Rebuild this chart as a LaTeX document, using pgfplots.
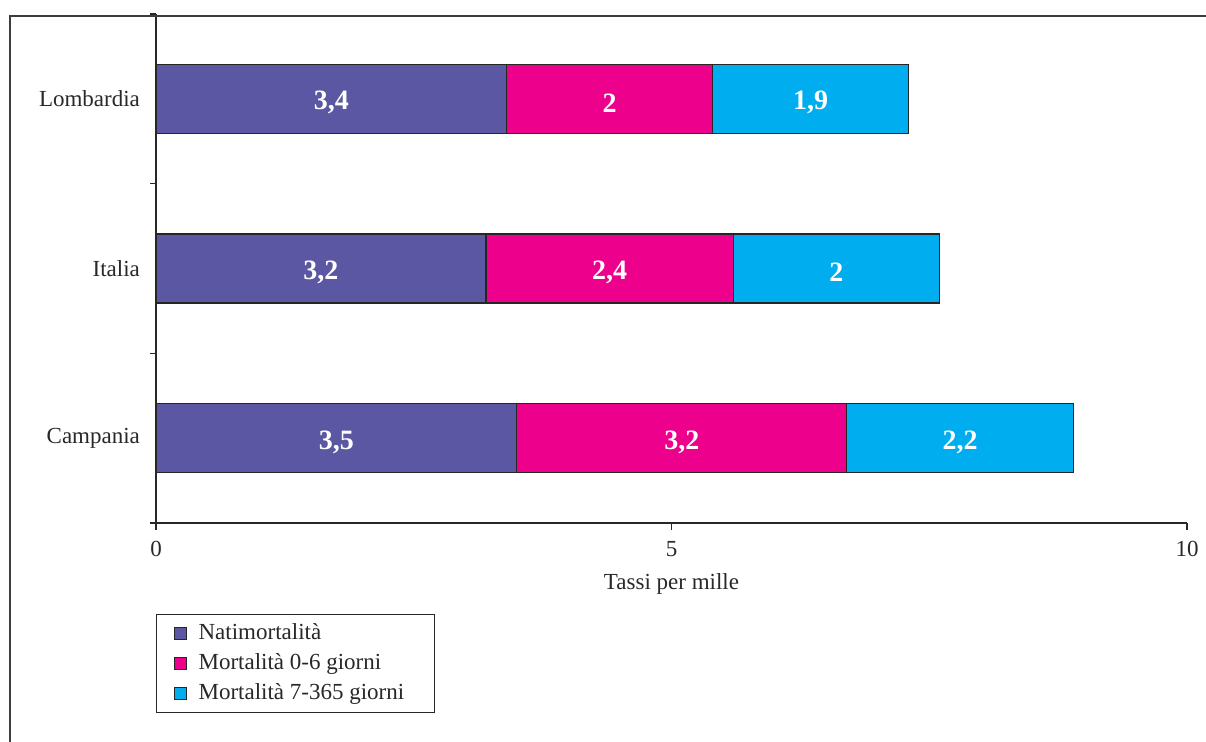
\documentclass[border=0pt]{standalone}
\usepackage{pgfplots}
\pgfplotsset{compat=1.18}
\usepackage{pgfplotstable}
\usepackage{fontspec}
\setmainfont{Liberation Serif}
\definecolor{cNati}{RGB}{91,87,162}
\definecolor{cMort}{RGB}{236,0,140}
\definecolor{cLate}{RGB}{0,174,239}
\definecolor{txt}{RGB}{40,40,40}
\pgfplotstableread{
y a b c
0 3.5 3.2 2.2
1 3.2 2.4 2.0
2 3.4 2.0 1.9
}\data
\begin{document}
\begin{tikzpicture}
\begin{axis}[
  at={(78pt,109.5pt)}, anchor=south west,
  scale only axis, width=515.5pt, height=254.5pt,
  xbar stacked, bar width=34.5pt,
  xmin=0, xmax=10, ymin=-0.5, ymax=2.5,
  axis lines*=left,
  axis line style={line width=0.8pt, color=txt},
  tick align=outside,
  xtick={0,5,10},
  ytick={0,1,2},
  yticklabels={Campania,Italia,Lombardia},
  y tick style={draw=none},
  extra y ticks={-0.5,0.5,1.5,2.5},
  extra y tick labels={},
  extra y tick style={y tick style={draw=txt, line width=0.6pt}, major tick length=3pt},
  x tick style={line width=0.6pt, color=txt},
  major tick length=3.5pt,
  tick label style={font=\fontsize{11.5}{13}\selectfont, text=txt},
  /pgf/number format/assume math mode=true,
  /pgf/number format/use comma,
  xlabel={Tassi per mille},
  label style={font=\fontsize{11.5}{13}\selectfont, text=txt},
  xlabel style={yshift=-1.5pt},
  yticklabel style={xshift=-1pt},
  xticklabel style={yshift=-2pt},
  legend style={at={(axis description cs:0,0)}, anchor=north west, yshift=-45.5pt,
    draw=txt, line width=0.6pt, font=\fontsize{11.5}{13}\selectfont, text=txt,
    inner xsep=8.5pt, inner ysep=2pt,
    /tikz/every odd column/.append style={column sep=4pt},
    nodes={text height=8.5pt, text depth=2.5pt, inner ysep=2pt}},
  legend cell align=left,
  legend image code/.code={\draw[#1,draw=black!85,line width=0.5pt] (0pt,-3pt) rectangle (6pt,3pt);},
  nodes near coords={\pgfmathprintnumber{\rawx}},
  every node near coord/.append style={font=\fontsize{14}{16}\selectfont\bfseries, text=white,
    anchor=center, yshift=-2pt},
]
\addplot[fill=cNati, draw=black!85, line width=0.6pt,
  visualization depends on={\thisrow{a} \as \rawx}] table[x=a,y=y] {\data};
\addplot[fill=cMort, draw=black!85, line width=0.6pt,
  visualization depends on={\thisrow{b} \as \rawx}] table[x=b,y=y] {\data};
\addplot[fill=cLate, draw=black!85, line width=0.6pt,
  visualization depends on={\thisrow{c} \as \rawx}] table[x=c,y=y] {\data};
\legend{Natimortalità, Mortalità 0-6 giorni, Mortalità 7-365 giorni\hspace*{4.5pt}}
\end{axis}
\draw[line width=1pt, color=txt!90] (603pt,363pt) -- (5pt,363pt) -- (5pt,0pt);
\pgfresetboundingbox
\path[use as bounding box] (0pt,0pt) rectangle (603pt,371pt);
\end{tikzpicture}
\end{document}
